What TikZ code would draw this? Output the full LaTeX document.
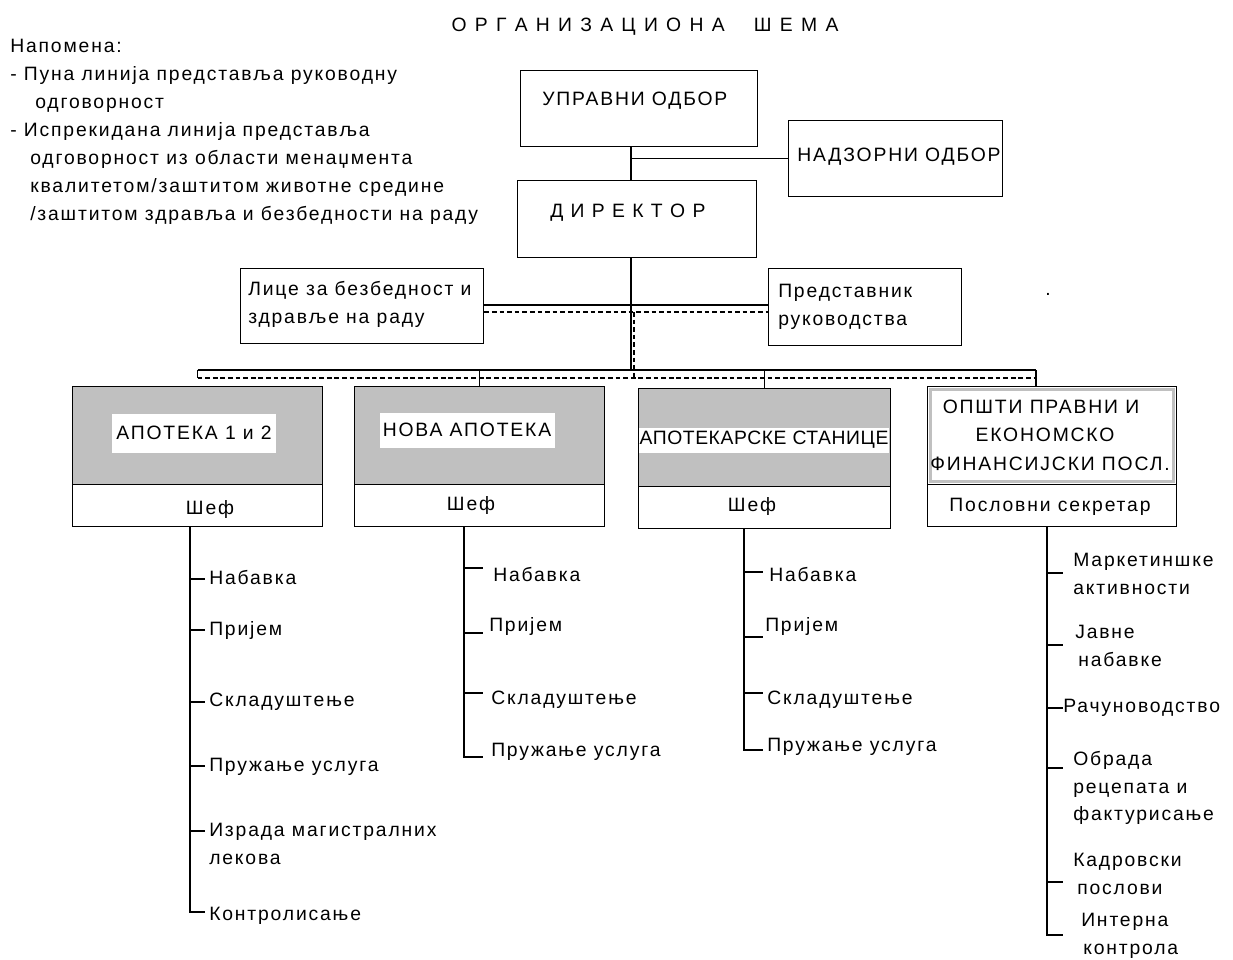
\documentclass[tikz,border=0pt]{standalone}
\usepackage{fontspec}
\setmainfont{Liberation Sans}[LetterSpace=9.5]
\usetikzlibrary{calc}
\definecolor{boxgray}{RGB}{192,192,192}
\newcommand{\fs}{\fontsize{14.5}{17}\selectfont}
\newcommand{\gp}{\hspace{6.2pt}}
\newcommand{\rbox}[6][]{\node[box,#1,minimum width={(#5-#3)*0.75pt},minimum height={(#6-#4)*0.75pt}] (#2) at (#3,#4) {};}
\begin{document}
\begin{tikzpicture}[x=0.75pt,y=-0.75pt,
  box/.style={draw,line width=1pt,inner sep=0,anchor=north west},
  txt/.style={anchor=mid west,inner sep=0,font=\fs},
  ctxt/.style={anchor=center,inner sep=0,font=\fs},
  ln/.style={line width=1pt},
  dsh/.style={line width=0.9pt,dash pattern=on 3.5pt off 2.2pt},
  tick/.style={line width=1pt}]
\fill[white] (0,0) rectangle (1233,960);
\useasboundingbox (0,0) rectangle (1233,960);
% title
\node[ctxt] (title) at (645,27) {О\gp Р\gp Г\gp А\gp Н\gp И\gp З\gp А\gp Ц\gp И\gp О\gp Н\gp А\hspace{22pt}Ш\gp Е\gp М\gp А};
% note
\node[txt] (n1) at (10,49) {Напомена:};
\node[txt] (n2) at (10,77) {- Пуна линија представља руководну};
\node[txt] (n3) at (35,105) {одговорност};
\node[txt] (n4) at (10,133) {- Испрекидана линија представља};
\node[txt] (n5) at (30,161) {одговорност из области менаџмента};
\node[txt] (n6) at (30,189) {квалитетом/заштитом животне средине};
\node[txt] (n7) at (30,217) {/заштитом здравља и безбедности на раду};
% top boxes
\rbox{up}{520}{70}{757}{146}
\node[txt] (upt) at (542,102) {УПРАВНИ ОДБОР};
\rbox{nad}{788}{120}{1002}{196}
\node[txt] (nadt) at (797,158) {НАДЗОРНИ ОДБОР};
\rbox{dir}{517}{180}{756}{257}
\node[txt] (dirt) at (550,214) {Д\hspace{5.5pt}И\hspace{5.5pt}Р\hspace{5.5pt}Е\hspace{5.5pt}К\hspace{5.5pt}Т\hspace{5.5pt}О\hspace{5.5pt}Р};
\rbox{lic}{240}{268}{483}{343}
\node[txt] (lict1) at (248,292) {Лице за безбедност и};
\node[txt] (lict2) at (248,320) {здравље на раду};
\rbox{pred}{768}{268}{961}{345}
\node[txt] (predt1) at (778,294) {Представник};
\node[txt] (predt2) at (778,322) {руководства};
% helper coordinates
\coordinate (sp) at (631,0);
\coordinate (dsp) at (634,0);
\coordinate (bus) at (0,370);
\coordinate (dbus) at (0,378);
\coordinate (dh) at (0,312);
\coordinate (d4x) at (1036,0);
% departments
\rbox[fill=boxgray]{d1t}{72}{386}{322}{484}
\rbox{d1b}{72}{484}{322}{526}
\rbox[fill=boxgray]{d2t}{354}{386}{604}{484}
\rbox{d2b}{354}{484}{604}{526}
\rbox[fill=boxgray]{d3t}{638}{388}{890}{486}
\rbox{d3b}{638}{486}{890}{528}
\rbox[fill=white]{d4t}{927}{386}{1176}{484}
\rbox{d4b}{927}{484}{1176}{526}
\draw[boxgray,line width=2.2pt] ($(d4t.north west)+(3.5,3.5)$) rectangle ($(d4t.south east)+(-3.5,-3.5)$);
\node[ctxt,fill=white,minimum width={164*0.75pt},minimum height={39*0.75pt}] (l1) at (194,433) {АПОТЕКА 1 и 2};
\node[ctxt,fill=white,minimum width={175*0.75pt},minimum height={35*0.75pt}] (l2) at (467,430) {НОВА АПОТЕКА};
\node[ctxt,fill=white,minimum width={250*0.75pt},minimum height={25*0.75pt}] (l3) at (764,440) {\addfontfeatures{LetterSpace=3}АПОТЕКАРСКЕ СТАНИЦЕ};
\node[ctxt] (l4a) at (1041,407) {ОПШТИ ПРАВНИ И};
\node[ctxt] (l4b) at (1045,435) {ЕКОНОМСКО};
\node[ctxt] (l4c) at (1050,464) {ФИНАНСИЈСКИ ПОСЛ.};
\node[ctxt] (s1) at (210,509) {Шеф};
\node[ctxt] (s2) at (471,505) {Шеф};
\node[ctxt] (s3) at (752,506) {Шеф};
\node[ctxt] (s4) at (1050,507) {Пословни секретар};
% connectors top
\draw[ln] (up.south -| sp) -- (dir.north -| sp);
\draw[ln] (nad.west -| sp) -- (nad.west);
\draw[ln] (dir.south -| sp) -- (sp |- bus);
\draw[ln] (lic.east |- 0,305) -- (pred.west |- 0,305);
\draw[dsh] (lic.east |- dh) -- (pred.west |- dh);
\draw[dsh] (dsp |- dh) -- (dsp |- dbus);
% buses
\draw[ln] (d1t.north |- bus) -- (d4x |- bus);
\draw[ln] (d1t.north |- bus) -- (d1t.north |- dbus);
\draw[ln] (d2t.north |- bus) -- (d2t.north);
\draw[ln] (d3t.north |- bus) -- (d3t.north);
\draw[ln] (d4x |- bus) -- (d4x |- d4t.north);
\draw[dsh] (d1t.north |- dbus) -- (d4x |- dbus);
% list 1
\coordinate (t1) at (190,0);
\node[txt] (a1) at (209,581) {Набавка};
\node[txt] (a2) at (209,632) {Пријем};
\node[txt] (a3) at (209,703) {Складуштење};
\node[txt] (a4) at (209,768) {Пружање услуга};
\node[txt] (a5) at (209,833) {Израда магистралних};
\node[txt] (a5b) at (209,861) {лекова};
\node[txt] (a6) at (209,917) {Контролисање};
\draw[ln] (t1 |- d1b.south) -- (t1 |- 0,912) -- ++(15,0);
\foreach \yy in {579,630,702,766,831} \draw[tick] (t1 |- 0,\yy) -- ++(15,0);
% list 2
\coordinate (t2) at (464,0);
\node[txt] (b1) at (493,578) {Набавка};
\node[txt] (b2) at (489,628) {Пријем};
\node[txt] (b3) at (491,701) {Складуштење};
\node[txt] (b4) at (491,753) {Пружање услуга};
\draw[ln] (t2 |- d2b.south) -- (t2 |- 0,757) -- ++(19,0);
\foreach \yy in {568,633,693} \draw[tick] (t2 |- 0,\yy) -- ++(19,0);
% list 3
\coordinate (t3) at (744,0);
\node[txt] (c1) at (769,578) {Набавка};
\node[txt] (c2) at (765,628) {Пријем};
\node[txt] (c3) at (767,701) {Складуштење};
\node[txt] (c4) at (767,748) {Пружање услуга};
\draw[ln] (t3 |- d3b.south) -- (t3 |- 0,750) -- ++(19,0);
\foreach \yy in {572,637,693} \draw[tick] (t3 |- 0,\yy) -- ++(19,0);
% list 4
\coordinate (t4) at (1047,0);
\node[txt] (e1) at (1073,563) {Маркетиншке};
\node[txt] (e1b) at (1073,591) {активности};
\node[txt] (e2) at (1075,635) {Јавне};
\node[txt] (e2b) at (1078,663) {набавке};
\node[txt] (e3) at (1063,709) {Рачуноводство};
\node[txt] (e4) at (1073,762) {Обрада};
\node[txt] (e4b) at (1073,790) {рецепата и};
\node[txt] (e4c) at (1073,817) {фактурисање};
\node[txt] (e5) at (1073,863) {Кадровски};
\node[txt] (e5b) at (1077,891) {послови};
\node[txt] (e6) at (1081,923) {Интерна};
\node[txt] (e6b) at (1083,951) {контрола};
\draw[ln] (t4 |- d4b.south) -- (t4 |- 0,935) -- ++(16,0);
\foreach \yy in {573,645,708,768,882} \draw[tick] (t4 |- 0,\yy) -- ++(16,0);
% stray dot
\node[ctxt] (dot) at (1048,294) {.};
\end{tikzpicture}
\end{document}
